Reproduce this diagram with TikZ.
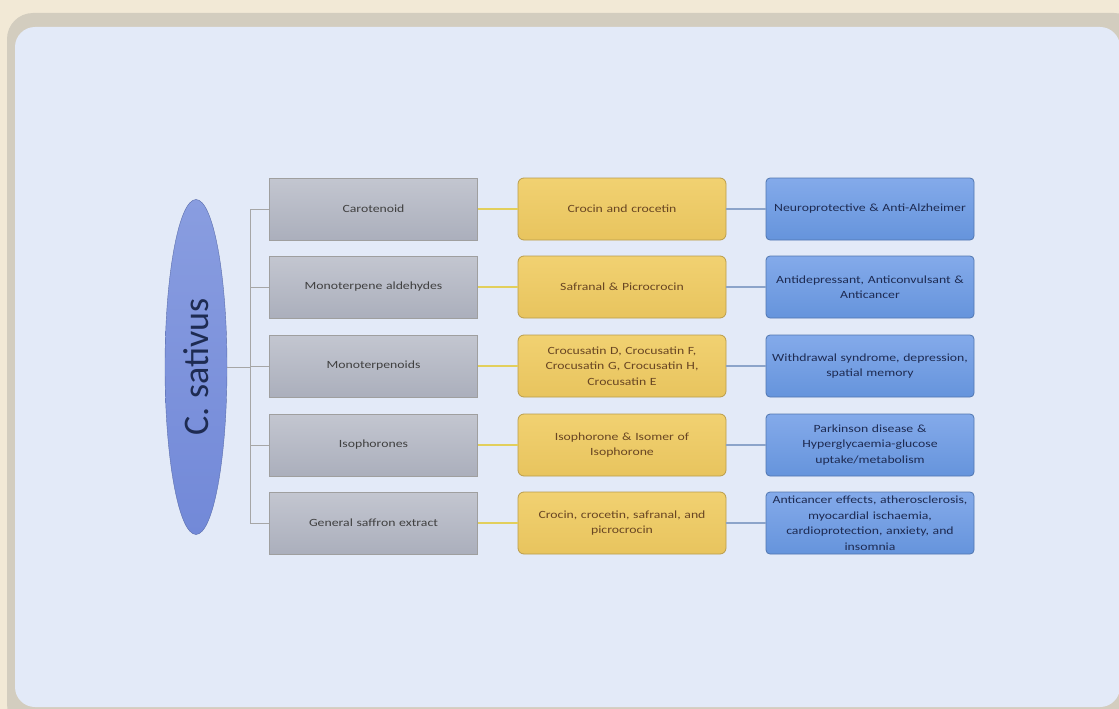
\documentclass[tikz,border=0pt]{standalone}
\usepackage{fontspec}
\setmainfont{Carlito}
\newfontfamily\boxfont[FakeStretch=1.25]{Carlito}
\usetikzlibrary{shapes.geometric,calc}

\definecolor{parch}{HTML}{F2E9D6}
\definecolor{frame}{HTML}{D3CDBF}
\definecolor{panel}{HTML}{E3EAF8}
\definecolor{navy}{HTML}{1E2B52}
\definecolor{grtop}{HTML}{C3C6D0}
\definecolor{grbot}{HTML}{ABAFBC}
\definecolor{ytop}{HTML}{F1D171}
\definecolor{ybot}{HTML}{E8C45E}
\definecolor{btop}{HTML}{84AAEA}
\definecolor{bbot}{HTML}{6594DC}
\definecolor{etop}{HTML}{899DE0}
\definecolor{ebot}{HTML}{7289D8}
\definecolor{yline}{HTML}{E2CF5C}
\definecolor{bline}{HTML}{8CA4CA}

\begin{document}
\begin{tikzpicture}[x=1pt, y=-1pt,
  box/.style  = {minimum width=207pt, minimum height=62pt, inner sep=2pt,
                 align=center, text width=204pt, line width=0.8pt,
                 font=\boxfont\fontsize{11}{15.5}\selectfont},
  grp/.style  = {box, draw=gray!75, top color=grtop, bottom color=grbot,
                 text=black!75},
  cmp/.style  = {box, rounded corners=6pt, draw=ybot!80!black,
                 top color=ytop, bottom color=ybot, text=brown!55!black},
  eff/.style  = {box, rounded corners=4pt, draw=bbot!80!black,
                 top color=btop, bottom color=bbot, text=navy},
  root/.style = {ellipse, rotate=90, minimum width=335pt, minimum height=62pt,
                 draw=ebot!80!black, top color=etop, bottom color=ebot,
                 font=\fontsize{36}{36}\selectfont, text=navy},
  tr/.style   = {draw=gray!70, line width=1pt},
  yl/.style   = {draw=yline, line width=1.6pt},
  bl/.style   = {draw=bline, line width=1.6pt},
]
\useasboundingbox (0,0) rectangle (1119,709);

%% background and panel
\fill[parch] (0,0) rectangle (1119,709);
\fill[frame, rounded corners=26pt] (7,13) rectangle (1140,730);
\fill[panel, rounded corners=20pt] (15,27) rectangle (1120,707);

%% root
\node[root] (cs) at (196,367) {C. sativus};

%% classes
\node[grp] (g1) at (373.5,209) {Carotenoid};
\node[grp] (g2) at (373.5,287) {Monoterpene aldehydes};
\node[grp] (g3) at (373.5,366) {Monoterpenoids};
\node[grp] (g4) at (373.5,445) {Isophorones};
\node[grp] (g5) at (373.5,523) {General saffron extract};

%% compounds
\node[cmp] (y1) at (622,209) {Crocin and crocetin};
\node[cmp] (y2) at (622,287) {Safranal \& Picrocrocin};
\node[cmp] (y3) at (622,366) {Crocusatin D, Crocusatin F,\\Crocusatin G, Crocusatin H,\\Crocusatin E};
\node[cmp] (y4) at (622,445) {Isophorone \& Isomer of\\Isophorone};
\node[cmp] (y5) at (622,523) {Crocin, crocetin, safranal, and\\picrocrocin};

%% effects
\node[eff] (e1) at (870,209) {Neuroprotective \& Anti-Alzheimer};
\node[eff] (e2) at (870,287) {Antidepressant, Anticonvulsant \&\\Anticancer};
\node[eff] (e3) at (870,366) {Withdrawal syndrome, depression,\\spatial memory};
\node[eff] (e4) at (870,445) {Parkinson disease \&\\Hyperglycaemia-glucose\\uptake/metabolism};
\node[eff] (e5) at (870,523) {Anticancer effects, atherosclerosis,\\myocardial ischaemia,\\cardioprotection, anxiety, and\\insomnia};

%% tree lines
\coordinate (ttop) at (250,209);
\coordinate (tbot) at (250,523);
\draw[tr] (ttop) -- (tbot);
\draw[tr] (cs) -- (cs -| ttop);
\foreach \i in {1,...,5} {
  \draw[tr] (g\i.west -| ttop) -- (g\i.west);
  \draw[yl] (g\i) -- (y\i);
  \draw[bl] (y\i) -- (e\i);
}

\end{tikzpicture}
\end{document}
